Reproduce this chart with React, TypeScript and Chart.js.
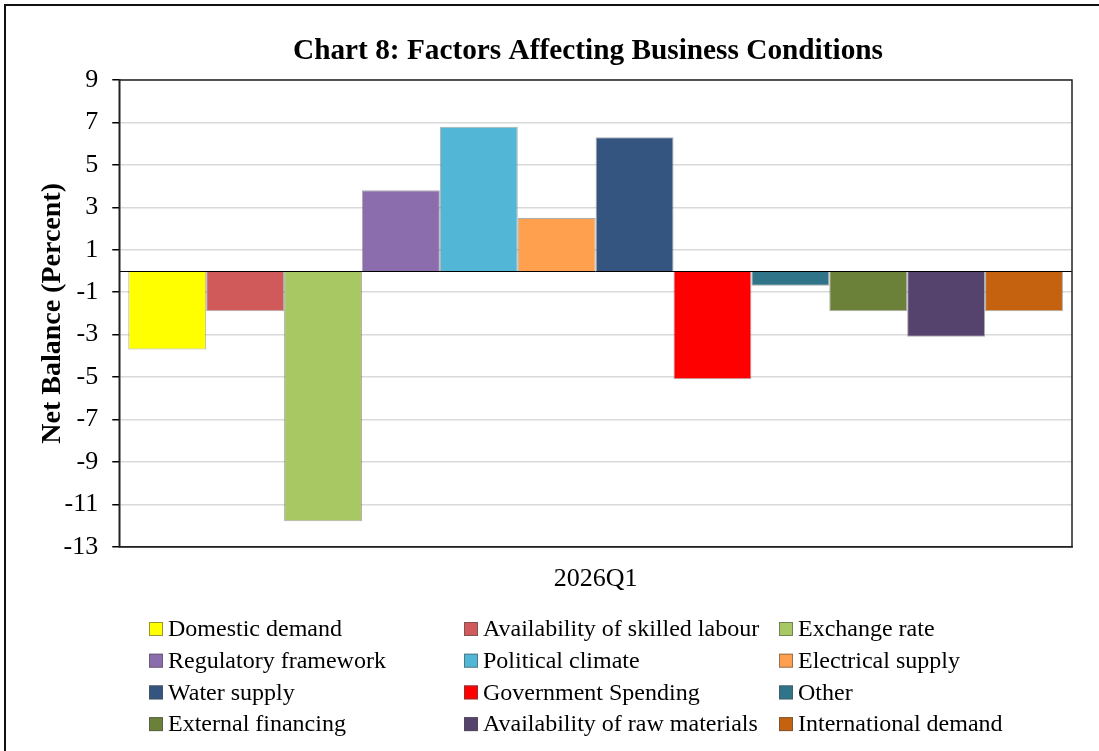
import React, { useEffect, useRef } from "react";
import { Chart, registerables } from "chart.js";

Chart.register(...registerables);

const categories = ["2026Q1"];
const seriesNames = [
  "Domestic demand",
  "Availability of skilled labour",
  "Exchange rate",
  "Regulatory framework",
  "Political climate",
  "Electrical supply",
  "Water supply",
  "Government Spending",
  "Other",
  "External financing",
  "Availability of raw materials",
  "International demand",
];
const seriesValues = [-3.7, -1.9, -11.8, 3.8, 6.8, 2.5, 6.3, -5.1, -0.7, -1.9, -3.1, -1.9];
const seriesColors = [
  "#FFFF00",
  "#D0595A",
  "#A8C864",
  "#8B6CAD",
  "#52B7D6",
  "#FFA04F",
  "#33557F",
  "#FF0000",
  "#2F7489",
  "#6B8039",
  "#56436D",
  "#C4620F",
];
const yMin = -13;
const yMax = 9;
const yStep = 2;
const chartTitle = "Chart 8: Factors Affecting Business Conditions";
const yAxisTitle = "Net Balance (Percent)";

const FONT = "'Liberation Serif', 'Times New Roman', serif";

const framePlugin = {
  id: "framePlugin",
  afterDatasetsDraw(chart: any) {
    const { ctx, chartArea, scales } = chart;
    const y0 = scales.y.getPixelForValue(0);
    ctx.save();
    ctx.strokeStyle = "#000";
    ctx.lineWidth = 1;
    ctx.beginPath();
    ctx.moveTo(chartArea.left, Math.round(y0) + 0.5);
    ctx.lineTo(chartArea.right, Math.round(y0) + 0.5);
    ctx.stroke();
    ctx.strokeStyle = "#222";
    ctx.lineWidth = 1.5;
    ctx.strokeRect(chartArea.left, chartArea.top, chartArea.right - chartArea.left, chartArea.bottom - chartArea.top);
    ctx.restore();
  },
  afterDraw(chart: any) {
    const { ctx } = chart;
    ctx.save();
    // outer frame (left and top edges)
    ctx.strokeStyle = "#111";
    ctx.lineWidth = 2;
    ctx.beginPath();
    ctx.moveTo(5, chart.height);
    ctx.lineTo(5, 5);
    ctx.lineTo(chart.width, 5);
    ctx.stroke();

    // title
    ctx.fillStyle = "#000";
    ctx.font = `bold 29.3px ${FONT}`;
    ctx.textAlign = "center";
    ctx.textBaseline = "middle";
    ctx.fillText(chartTitle, 588, 51);

    // legend in 3 columns
    const colX = [149, 464, 779];
    const rowY0 = 629;
    const rowH = 31.7;
    ctx.font = `24px ${FONT}`;
    ctx.textBaseline = "middle";
    ctx.textAlign = "left";
    seriesNames.forEach((name, i) => {
      const col = i % 3;
      const row = Math.floor(i / 3);
      const x = colX[col];
      const y = rowY0 + row * rowH;
      ctx.fillStyle = seriesColors[i];
      ctx.fillRect(x, y - 7, 14, 14);
      ctx.strokeStyle = "rgba(80,80,80,0.6)";
      ctx.lineWidth = 1;
      ctx.strokeRect(x + 0.5, y - 6.5, 13, 13);
      ctx.fillStyle = "#000";
      ctx.fillText(name, x + 19, y + 1);
    });
    ctx.restore();
  },
};

export default function App() {
  const ref = useRef<HTMLCanvasElement | null>(null);

  useEffect(() => {
    if (!ref.current) return;
    const datasets = seriesNames.map((name, i) => ({
      label: name,
      data: [seriesValues[i]],
      backgroundColor: seriesColors[i],
      borderColor: "rgba(70,70,70,0.45)",
      borderWidth: 1,
      categoryPercentage: 0.981,
      barPercentage: 1.0,
    }));
    const chart = new Chart(ref.current, {
      type: "bar",
      data: { labels: categories, datasets },
      plugins: [framePlugin],
      options: {
        animation: false,
        responsive: false,
        devicePixelRatio: 1,
        layout: { padding: { top: 80, right: 27, bottom: 139, left: 0 } },
        plugins: {
          legend: { display: false },
          tooltip: { enabled: false },
          title: { display: false },
        },
        scales: {
          x: {
            grid: { display: false, drawTicks: false },
            border: { display: true, color: "#222", width: 1.5 },
            ticks: { color: "#000", font: { family: FONT, size: 26 }, padding: 17 },
          },
          y: {
            min: yMin,
            max: yMax,
            ticks: {
              stepSize: yStep,
              color: "#000",
              font: { family: FONT, size: 26 },
              padding: 14,
            },
            grid: {
              color: "#d9d9d9",
              lineWidth: 1.5,
              tickColor: "#000",
              tickLength: 7,
              drawTicks: true,
            },
            border: { display: true, color: "#222", width: 1.5 },
            title: {
              display: true,
              text: yAxisTitle,
              color: "#000",
              font: { family: FONT, size: 28, weight: "bold" },
              padding: { top: 36, bottom: -20 },
            },
          },
        },
      },
    });
    return () => chart.destroy();
  }, []);

  return (
    <div style={{ position: "absolute", left: 0, top: 0, width: 1099, height: 751, background: "#fff" }}>
      <canvas ref={ref} width={1099} height={751} style={{ width: 1099, height: 751 }} />
    </div>
  );
}
